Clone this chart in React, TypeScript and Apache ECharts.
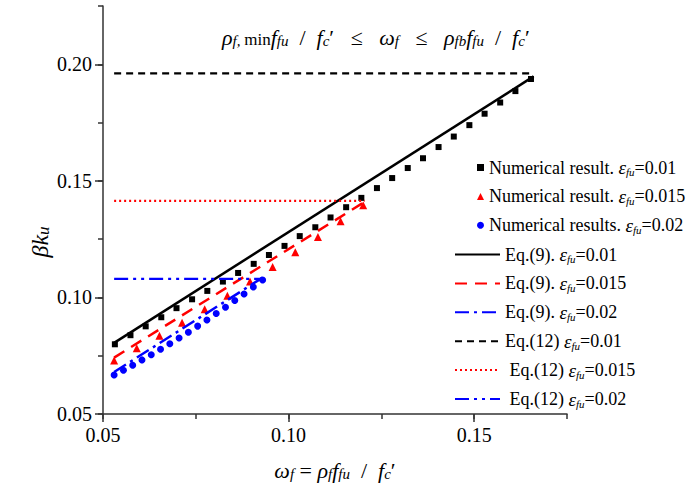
import React, { useEffect, useRef } from 'react';
import * as echarts from 'echarts';

const F = 'Liberation Serif';

// Numerical results, eps_fu = 0.01 (black squares)
const blackX = [0.0532, 0.0574, 0.0615, 0.0657, 0.0698, 0.0740, 0.0781, 0.0823, 0.0864, 0.0906, 0.0947, 0.0989, 0.1030, 0.1072, 0.1113, 0.1155, 0.1196, 0.1238, 0.1279, 0.1321, 0.1362, 0.1404, 0.1445, 0.1487, 0.1528, 0.1570, 0.1611, 0.1653];
const blackY = [0.0799, 0.0838, 0.0876, 0.0915, 0.0954, 0.0992, 0.1028, 0.1068, 0.1105, 0.1144, 0.1182, 0.1221, 0.1263, 0.1301, 0.1343, 0.1387, 0.1427, 0.1469, 0.1512, 0.1555, 0.1597, 0.1645, 0.1690, 0.1739, 0.1788, 0.1836, 0.1885, 0.1937];
// Numerical results, eps_fu = 0.015 (red triangles)
const redX = [0.0530, 0.0591, 0.0652, 0.0713, 0.0774, 0.0835, 0.0896, 0.0957, 0.1018, 0.1079, 0.1140, 0.1201];
const redY = [0.0730, 0.0782, 0.0836, 0.0891, 0.0949, 0.1007, 0.1068, 0.1130, 0.1194, 0.1259, 0.1327, 0.1395];
// Numerical results, eps_fu = 0.02 (blue dots)
const blueX = [0.0530, 0.0555, 0.0580, 0.0605, 0.0630, 0.0655, 0.0680, 0.0705, 0.0730, 0.0755, 0.0780, 0.0805, 0.0830, 0.0855, 0.0880, 0.0905, 0.0930];
const blueY = [0.0667, 0.0688, 0.0709, 0.0732, 0.0754, 0.0778, 0.0801, 0.0826, 0.0851, 0.0877, 0.0903, 0.0931, 0.0958, 0.0987, 0.1015, 0.1045, 0.1075];

// Eq.(9) straight lines
const eq9X_001 = [0.053, 0.166];
const eq9Y_001 = [0.0805, 0.1948];
const eq9X_0015 = [0.053, 0.1205];
const eq9Y_0015 = [0.0742, 0.1410];
const eq9X_002 = [0.053, 0.093];
const eq9Y_002 = [0.0680, 0.1085];

// Eq.(12) horizontal limits
const eq12X_001 = [0.053, 0.166];
const eq12Y_001 = [0.1961, 0.1961];
const eq12X_0015 = [0.053, 0.1205];
const eq12Y_0015 = [0.1414, 0.1414];
const eq12X_002 = [0.053, 0.093];
const eq12Y_002 = [0.1080, 0.1080];

const xMajor = [0.05, 0.10, 0.15];
const yMajor = [0.05, 0.10, 0.15, 0.20];

const scatterNames = ['Numerical result. εfu=0.01', 'Numerical result. εfu=0.015', 'Numerical results. εfu=0.02'];
const lineNames = ['Eq.(9). εfu=0.01', 'Eq.(9). εfu=0.015', 'Eq.(9). εfu=0.02', 'Eq.(12) εfu=0.01', ' Eq.(12) εfu=0.015', ' Eq.(12) εfu=0.02'];

const zip = (xs: number[], ys: number[]) => xs.map((x, i) => [x, ys[i]]);

const legendRich = {
  n: { fontSize: 18, fontFamily: F, color: '#000', lineHeight: 20 },
  e: { fontSize: 19, fontFamily: F, fontStyle: 'italic', color: '#000', lineHeight: 20 },
  s: { fontSize: 11, fontFamily: F, fontStyle: 'italic', color: '#000', verticalAlign: 'bottom' },
};

const legendFormatter = (name: string) => {
  const parts = name.split('εfu=');
  return `{n|${parts[0]}}{e|ε}{s|fu}{n|=${parts[1]}}`;
};

const mathRich = (size: number) => ({
  i: { fontSize: size, fontFamily: F, fontStyle: 'italic', color: '#000' },
  r: { fontSize: size, fontFamily: F, color: '#000' },
  s: { fontSize: Math.round(size * 0.68), fontFamily: F, fontStyle: 'italic', color: '#000', verticalAlign: 'bottom' },
  m: { fontSize: Math.round(size * 0.75), fontFamily: F, color: '#000', verticalAlign: 'bottom' },
});

export default function App() {
  const ref = useRef<HTMLDivElement>(null);
  useEffect(() => {
    if (!ref.current) return;
    const chart = echarts.init(ref.current, null, { renderer: 'svg' });
    const axisColor = '#333';
    const lineW = 2.5;
    const option: any = {
      animation: false,
      backgroundColor: '#fff',
      textStyle: { fontFamily: F },
      grid: { left: 103, right: 130, top: 6, bottom: 78, containLabel: false },
      xAxis: [
        {
          type: 'value', min: 0.05, max: 0.175, interval: 0.025, position: 'bottom',
          axisLine: { show: true, lineStyle: { color: axisColor, width: 1.5 } },
          axisTick: { show: true, length: 5, lineStyle: { color: axisColor, width: 1.5 } },
          axisLabel: { customValues: xMajor, formatter: (v: number) => v.toFixed(2), fontSize: 20, fontFamily: F, color: '#000', margin: 11 },
          splitLine: { show: false },
          name: '{i|ω}{s|f}{r| = }{i|ρ}{s|f}{i|f}{s|fu}{r|  /  }{i|f}{s|c}{r|′}',
          nameLocation: 'middle', nameGap: 45,
          nameTextStyle: { fontFamily: F, rich: mathRich(22) },
        },
        {
          type: 'value', min: 0.05, max: 0.175, position: 'bottom',
          axisLine: { show: false },
          axisTick: { show: true, customValues: xMajor, length: 8, lineStyle: { color: axisColor, width: 1.5 } },
          axisLabel: { show: false },
          splitLine: { show: false },
        },
      ],
      yAxis: [
        {
          type: 'value', min: 0.05, max: 0.225, interval: 0.025, position: 'left',
          axisLine: { show: true, lineStyle: { color: axisColor, width: 1.5 } },
          axisTick: { show: true, length: 5, lineStyle: { color: axisColor, width: 1.5 } },
          axisLabel: { customValues: yMajor, formatter: (v: number) => v.toFixed(2), fontSize: 20, fontFamily: F, color: '#000', margin: 11 },
          splitLine: { show: false },
        },
        {
          type: 'value', min: 0.05, max: 0.225, position: 'left',
          axisLine: { show: false },
          axisTick: { show: true, customValues: yMajor, length: 8, lineStyle: { color: axisColor, width: 1.5 } },
          axisLabel: { show: false },
          splitLine: { show: false },
        },
      ],
      legend: [
        {
          data: scatterNames, orient: 'vertical', left: 472, top: 153,
          itemWidth: 7, itemHeight: 7, itemGap: 9.4, itemTextGap: 20,
          formatter: legendFormatter,
          textStyle: { rich: legendRich, fontFamily: F, fontSize: 18, color: '#000' },
        },
        {
          data: lineNames, orient: 'vertical', left: 449, top: 240,
          itemWidth: 45, itemHeight: 12, itemGap: 9.4, itemTextGap: 5,
          itemStyle: { opacity: 0 },
          formatter: legendFormatter,
          textStyle: { rich: legendRich, fontFamily: F, fontSize: 18, color: '#000' },
        },
      ],
      graphic: [
        {
          type: 'text', left: 222, top: 26,
          style: {
            text: '{i|ρ}{s|f, }{m|min}{i|f}{s|fu}{r|  /  }{i|f}{s|c}{r|′   ≤   }{i|ω}{s|f}{r|   ≤   }{i|ρ}{s|fb}{i|f}{s|fu}{r|  /  }{i|f}{s|c}{r|′}',
            fontFamily: F,
            rich: mathRich(22),
          },
        },
        {
          type: 'text', x: 40, y: 242, rotation: Math.PI / 2,
          style: {
            text: '{i|βk}{s|u}',
            fontFamily: F,
            align: 'center', verticalAlign: 'middle',
            rich: {
              i: { fontSize: 24, fontFamily: F, fontStyle: 'italic', color: '#000' },
              s: { fontSize: 17, fontFamily: F, fontStyle: 'italic', color: '#000', verticalAlign: 'bottom' },
            },
          },
        },
      ],
      series: [
        { name: scatterNames[0], type: 'scatter', symbol: 'rect', symbolSize: 6, itemStyle: { color: '#000', opacity: 1 }, data: zip(blackX, blackY), z: 3 },
        { name: scatterNames[1], type: 'scatter', symbol: 'triangle', symbolSize: 8, itemStyle: { color: '#ff0000', opacity: 1 }, data: zip(redX, redY), z: 3 },
        { name: scatterNames[2], type: 'scatter', symbol: 'circle', symbolSize: 7, itemStyle: { color: '#0000ff', opacity: 1 }, data: zip(blueX, blueY), z: 3 },
        { name: lineNames[0], type: 'line', symbol: 'none', data: zip(eq9X_001, eq9Y_001), lineStyle: { color: '#000', width: lineW, type: 'solid' }, itemStyle: { color: '#000' }, z: 4 },
        { name: lineNames[1], type: 'line', symbol: 'none', data: zip(eq9X_0015, eq9Y_0015), lineStyle: { color: '#ff0000', width: lineW, type: [12, 8] }, itemStyle: { color: '#ff0000' }, z: 4 },
        { name: lineNames[2], type: 'line', symbol: 'none', data: zip(eq9X_002, eq9Y_002), lineStyle: { color: '#0000ff', width: lineW, type: [14, 5, 3, 5] }, itemStyle: { color: '#0000ff' }, z: 4 },
        { name: lineNames[3], type: 'line', symbol: 'none', data: zip(eq12X_001, eq12Y_001), lineStyle: { color: '#000', width: 2.2, type: [7, 5] }, itemStyle: { color: '#000' }, z: 4 },
        { name: lineNames[4], type: 'line', symbol: 'none', data: zip(eq12X_0015, eq12Y_0015), lineStyle: { color: '#ff0000', width: 2.2, type: [2, 3] }, itemStyle: { color: '#ff0000' }, z: 4 },
        { name: lineNames[5], type: 'line', symbol: 'none', data: zip(eq12X_002, eq12Y_002), lineStyle: { color: '#0000ff', width: 2.2, type: [14, 5, 3, 5, 3, 5] }, itemStyle: { color: '#0000ff' }, z: 4 },
      ],
    };
    chart.setOption(option);
    return () => chart.dispose();
  }, []);
  return <div ref={ref} style={{ position: 'fixed', left: 0, top: 0, width: 697, height: 492, background: '#fff' }} />;
}
